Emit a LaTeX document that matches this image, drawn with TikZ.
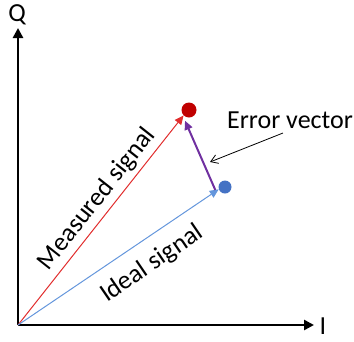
\documentclass[tikz,border=0pt]{standalone}
\usepackage{fontspec}
\setmainfont{Carlito}
\usetikzlibrary{positioning, arrows.meta, calc}
\definecolor{cR}{RGB}{192,0,0}
\definecolor{cRl}{RGB}{225,45,45}
\definecolor{cB}{RGB}{68,114,196}
\definecolor{cBl}{RGB}{100,150,220}
\definecolor{cP}{RGB}{112,48,160}

\begin{document}
\begin{tikzpicture}[x=1pt, y=-1pt,
    axis/.style={line width=2.8pt, -{Triangle[length=10pt, width=10pt]}},
    vec/.style={line width=1pt, -{Triangle[length=9pt, width=8pt]}},
    dot/.style={circle, inner sep=0pt, minimum size=#1},
    lbl/.style={font=\fontsize{26}{30}\selectfont, inner sep=1pt}]
    \useasboundingbox (0,0) rectangle (354,341);

    % Axes
    \coordinate (O) at (18,325);
    \coordinate (Qend) at (18,28);
    \coordinate (Iend) at (314,325);
    \draw[axis] (O) -- (Qend);
    \draw[axis] (O) -- (Iend);
    \node[lbl] (Q) at (17,15) {Q};
    \node[lbl] (I) at (323,326) {I};

    % Signal points
    \node[dot=15pt, fill=cR] (meas) at (189,110) {};
    \node[dot=13pt, fill=cB] (ideal) at (225,187) {};

    % Vectors
    \draw[vec, cRl] (O) -- (meas.225);
    \draw[vec, cBl] (O) -- (ideal.200);
    \draw[vec, cP, line width=2pt] ($(ideal.west)+(-3,3)$) coordinate (pa) -- ($(meas.south)+(-4,3)$) coordinate (pb);

    % Labels
    \node[lbl, rotate=51.7] (mlabel) at (97,199) {Measured signal};
    \node[lbl, rotate=34.3] (ilabel) at (152,264) {Ideal signal};
    \node[lbl, anchor=west] (err) at (226,120) {Error vector};
    \coordinate (errtip) at (210,162);
    \draw[line width=0.8pt, -{Straight Barb[length=7pt, width=9pt]}] (283,133) -- (errtip);
\end{tikzpicture}
\end{document}
